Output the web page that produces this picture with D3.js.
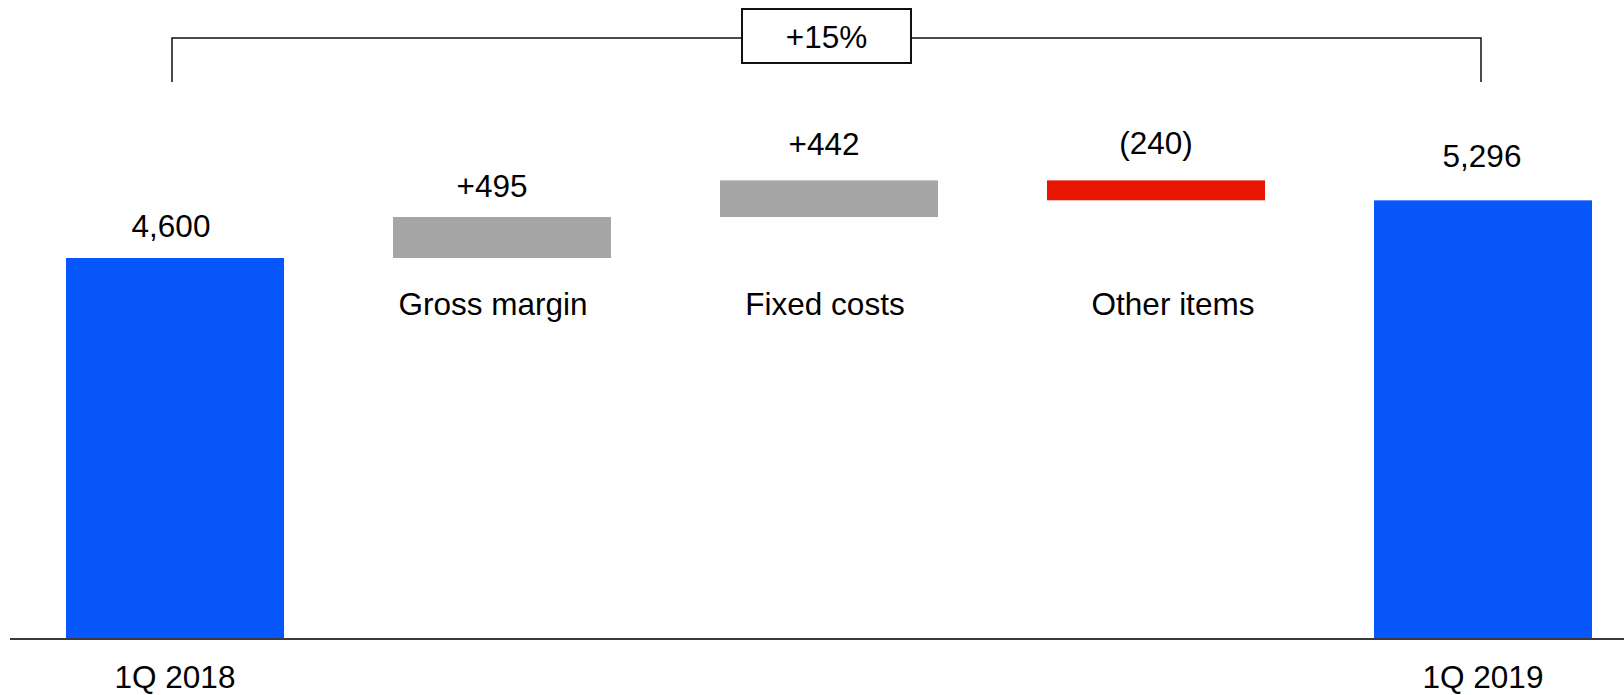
<!DOCTYPE html>
<html>
<head>
<meta charset="utf-8">
<script src="https://cdn.jsdelivr.net/npm/d3@7"></script>
<style>
  html, body { margin: 0; padding: 0; background: #fff; }
  svg { display: block; }
  text { font-family: "Liberation Sans", Arial, sans-serif; fill: #000; }
</style>
</head>
<body>
<svg id="chart" width="1624" height="695"></svg>
<script>
// Bridge of 1Q 2018 to 1Q 2019
const categories = ["1Q 2018", "Gross margin", "Fixed costs", "Other items", "1Q 2019"];
const kinds      = ["total", "delta", "delta", "delta", "total"];
const values     = [4600, 495, 442, -240, 5296];

const W = 1624, H = 695;
const baseY = 639;
const fontSize = 31.5;
const svg = d3.select("#chart");

const x = d3.scaleBand()
  .domain(categories)
  .range([11.5, 1646.5])
  .paddingInner(1 / 3)
  .paddingOuter(1 / 6);

const y = d3.scaleLinear()
  .domain([0, 4600])
  .range([baseY, 258]);

// running totals for the floating bars
let running = 0;
const bars = categories.map((c, i) => {
  let lo, hi;
  if (kinds[i] === "total") {
    lo = 0; hi = values[i]; running = values[i];
  } else {
    const start = running;
    running += values[i];
    lo = Math.min(start, running); hi = Math.max(start, running);
  }
  return { cat: c, kind: kinds[i], value: values[i], lo, hi };
});

const colour = d => d.kind === "total" ? "#0656fa" : (d.value >= 0 ? "#a6a6a6" : "#e81500");
const fmtTotal = d3.format(",");
const labelText = d => d.kind === "total"
  ? fmtTotal(d.value)
  : (d.value >= 0 ? "+" + d.value : "(" + Math.abs(d.value) + ")");

// label placement tweaks, per bar
const labelGap = [21, 20, 25, 26, 33];   // bar top to value label baseline
const valueDx  = [-4, -10, -5, 0, -1];
const catDx    = [0, -9, -4, 17, 0];
const cx = d => x(d.cat) + x.bandwidth() / 2;

svg.append("g").selectAll("rect")
  .data(bars)
  .join("rect")
  .attr("x", d => x(d.cat))
  .attr("width", x.bandwidth())
  .attr("y", d => y(d.hi))
  .attr("height", d => y(d.lo) - y(d.hi))
  .attr("fill", colour);

// value labels
svg.append("g").selectAll("text")
  .data(bars)
  .join("text")
  .attr("x", (d, i) => cx(d) + valueDx[i])
  .attr("y", (d, i) => y(d.hi) - labelGap[i])
  .attr("text-anchor", "middle")
  .attr("font-size", fontSize)
  .text(labelText);

// category labels: deltas under their bars, totals under the axis
svg.append("g").selectAll("text")
  .data(bars)
  .join("text")
  .attr("x", (d, i) => cx(d) + catDx[i])
  .attr("y", d => d.kind === "total" ? 688 : 315)
  .attr("text-anchor", "middle")
  .attr("font-size", fontSize)
  .text(d => d.cat);

// baseline
svg.append("line")
  .attr("x1", 10).attr("x2", W)
  .attr("y1", baseY).attr("y2", baseY)
  .attr("stroke", "#3a3a3a").attr("stroke-width", 2);

// growth bracket between the two totals
const first = bars[0], last = bars[bars.length - 1];
const bx1 = cx(first) - 3;
const bx2 = cx(last) - 2;
const by = 38, byEnd = 82;
const growth = last.value / first.value - 1;
const growthText = (growth >= 0 ? "+" : "") + d3.format(".0%")(growth);
const boxW = 169, boxH = 54, boxCx = 826.5;

const br = svg.append("g").attr("fill", "none").attr("stroke", "#111").attr("stroke-width", 1.5);
br.append("path")
  .attr("d", `M${bx1},${byEnd}V${by}H${boxCx - boxW / 2}M${boxCx + boxW / 2},${by}H${bx2}V${byEnd}`);
br.append("rect")
  .attr("x", boxCx - boxW / 2).attr("y", by - 29)
  .attr("width", boxW).attr("height", boxH)
  .attr("fill", "#fff").attr("stroke-width", 2);
svg.append("text")
  .attr("x", boxCx).attr("y", 48)
  .attr("text-anchor", "middle")
  .attr("font-size", fontSize)
  .text(growthText);
</script>
</body>
</html>
